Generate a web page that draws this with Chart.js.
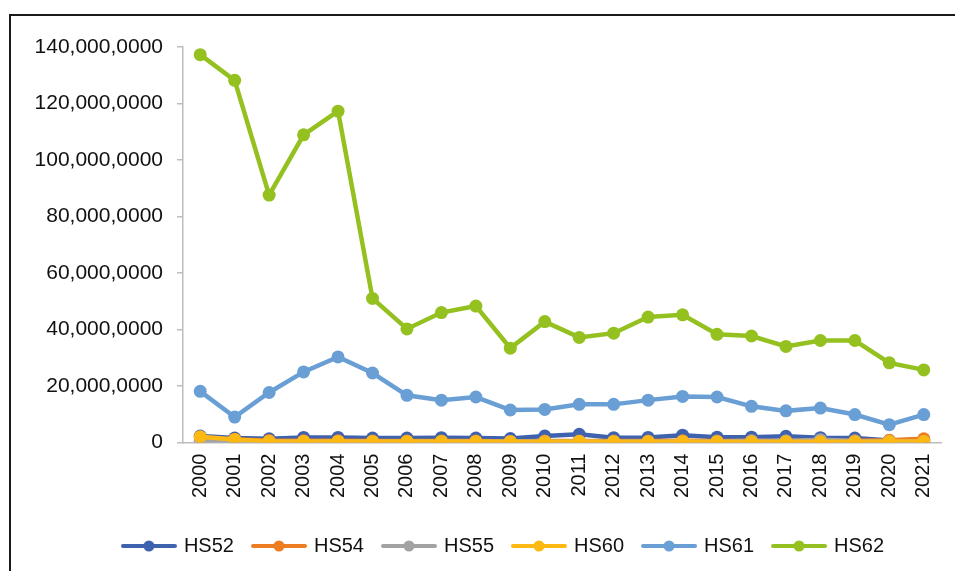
<!DOCTYPE html>
<html>
<head>
<meta charset="utf-8">
<script src="https://cdn.jsdelivr.net/npm/chart.js@4.4.1/dist/chart.umd.min.js"></script>
<style>
    html, body { margin: 0; padding: 0; background: #fff; overflow: hidden; }
    #frame {
        position: absolute; left: 9px; top: 14px; width: 1000px; height: 600px;
        border-top: 2px solid #1a1a1a; border-left: 2px solid #1a1a1a;
    }
    #wrap { position: absolute; left: 0; top: 0; width: 1000px; height: 571px; }
</style>
</head>
<body>
<div id="frame"></div>
<div id="wrap"><canvas id="chart"></canvas></div>
<script>
// Years on the x axis
const years = ['2000', '2001', '2002', '2003', '2004', '2005', '2006', '2007', '2008', '2009', '2010',
    '2011', '2012', '2013', '2014', '2015', '2016', '2017', '2018', '2019', '2020', '2021'];

// Series values (axis units)
const hs52 = [2.3, 1.6, 1.3, 1.8, 1.8, 1.6, 1.6, 1.7, 1.6, 1.4, 2.3, 2.9, 1.7, 1.8, 2.6, 1.9, 1.9, 2.2, 1.7, 1.6, 0.7, 1.0];
const hs54 = [1.8, 1.1, 0.7, 0.6, 0.6, 0.5, 0.5, 0.5, 0.5, 0.4, 0.5, 0.5, 0.5, 0.5, 0.6, 0.5, 0.5, 0.5, 0.6, 0.6, 0.8, 1.3];
const hs55 = [0.5, 0.5, 0.4, 0.4, 0.4, 0.4, 0.4, 0.4, 0.4, 0.4, 0.4, 0.4, 0.4, 0.4, 0.4, 0.4, 0.6, 0.5, 1.0, 0.5, 0.4, 0.4];
const hs60 = [2.0, 1.1, 0.4, 0.4, 0.4, 0.4, 0.4, 0.4, 0.4, 0.3, 0.3, 0.4, 0.3, 0.3, 0.4, 0.3, 0.3, 0.3, 0.3, 0.3, 0.4, 0.4];
const hs61 = [18.1, 9.0, 17.7, 25.0, 30.3, 24.6, 16.7, 15.0, 16.1, 11.5, 11.7, 13.5, 13.5, 15.0, 16.3, 16.1, 12.8, 11.2, 12.2, 9.9, 6.3, 9.9];
const hs62 = [137.3, 128.2, 87.6, 108.9, 117.3, 51.0, 40.2, 46.0, 48.3, 33.4, 42.8, 37.2, 38.7, 44.4, 45.2, 38.3, 37.7, 34.0, 36.1, 36.1, 28.2, 25.7];

const seriesNames = ['HS52', 'HS54', 'HS55', 'HS60', 'HS61', 'HS62'];
const seriesColors = ['#3F62AE', '#EE7D22', '#A3A3A3', '#FDB913', '#6A9FD5', '#94C11F'];
const seriesValues = [hs52, hs54, hs55, hs60, hs61, hs62];

const yTicks = [0, 20, 40, 60, 80, 100, 120, 140];

const FONT = "'Liberation Sans', Arial, sans-serif";

// legend swatch: short line with a dot in the middle
function makeSwatch(color) {
    const c = document.createElement('canvas');
    c.width = 56;
    c.height = 14;
    const g = c.getContext('2d');
    g.strokeStyle = color;
    g.lineWidth = 4;
    g.lineCap = 'round';
    g.beginPath();
    g.moveTo(2, 7);
    g.lineTo(54, 7);
    g.stroke();
    g.fillStyle = color;
    g.beginPath();
    g.arc(28, 7, 5.5, 0, Math.PI * 2);
    g.fill();
    return c;
}

// the legend sits a bit off the plot centre, as in the source
const legendNudge = {
    id: 'legendNudge',
    afterLayout(chart) {
        const lg = chart.legend;
        if (!lg) return;
        const dx = 504 - (lg.left + lg.right) / 2;
        lg.left += dx;
        lg.right += dx;
        lg.top += 7;
        lg.bottom += 7;
    }
};

const datasets = seriesNames.map((name, i) => ({
    label: name,
    data: seriesValues[i],
    borderColor: seriesColors[i],
    backgroundColor: seriesColors[i],
    pointBackgroundColor: seriesColors[i],
    pointBorderColor: seriesColors[i],
    borderWidth: 4.5,
    pointRadius: 6.5,
    pointBorderWidth: 0,
    tension: 0,
    // later series sit on top
    order: seriesNames.length - 1 - i
}));

const ctx = document.getElementById('chart').getContext('2d');
new Chart(ctx, {
    type: 'line',
    data: { labels: years, datasets: datasets },
    plugins: [legendNudge],
    options: {
        responsive: true,
        maintainAspectRatio: false,
        animation: false,
        layout: { padding: { left: 20, right: 59, top: 47, bottom: 12 } },
        plugins: {
            tooltip: { enabled: false },
            legend: {
                position: 'bottom',
                labels: {
                    usePointStyle: true,
                    pointStyleWidth: 50,
                    padding: 20,
                    color: '#111',
                    font: { family: FONT, size: 20 },
                    sort: (a, b) => a.datasetIndex - b.datasetIndex,
                    generateLabels: (chart) => {
                        const items = Chart.defaults.plugins.legend.labels.generateLabels(chart);
                        items.forEach(it => { it.pointStyle = makeSwatch(seriesColors[it.datasetIndex]); });
                        return items;
                    }
                }
            }
        },
        scales: {
            x: {
                offset: true,
                grid: { display: false, drawTicks: false },
                border: { display: true, color: '#bdbdbd', width: 1.5 },
                ticks: {
                    color: '#111',
                    font: { family: FONT, size: 20 },
                    minRotation: 90,
                    maxRotation: 90,
                    padding: 11,
                    autoSkip: false
                }
            },
            y: {
                min: 0,
                max: 140,
                afterFit: (scale) => { scale.width = 163; },
                afterBuildTicks: (scale) => { scale.ticks = yTicks.map(v => ({ value: v })); },
                grid: { drawOnChartArea: false, drawTicks: true, tickLength: 6, color: '#bdbdbd', lineWidth: 1.5 },
                border: { display: true, color: '#bdbdbd', width: 1.5 },
                ticks: {
                    color: '#111',
                    font: { family: FONT, size: 21 },
                    padding: 14,
                    callback: (v) => v === 0 ? '0' : v + ',000,0000'
                }
            }
        }
    }
});
</script>
</body>
</html>
